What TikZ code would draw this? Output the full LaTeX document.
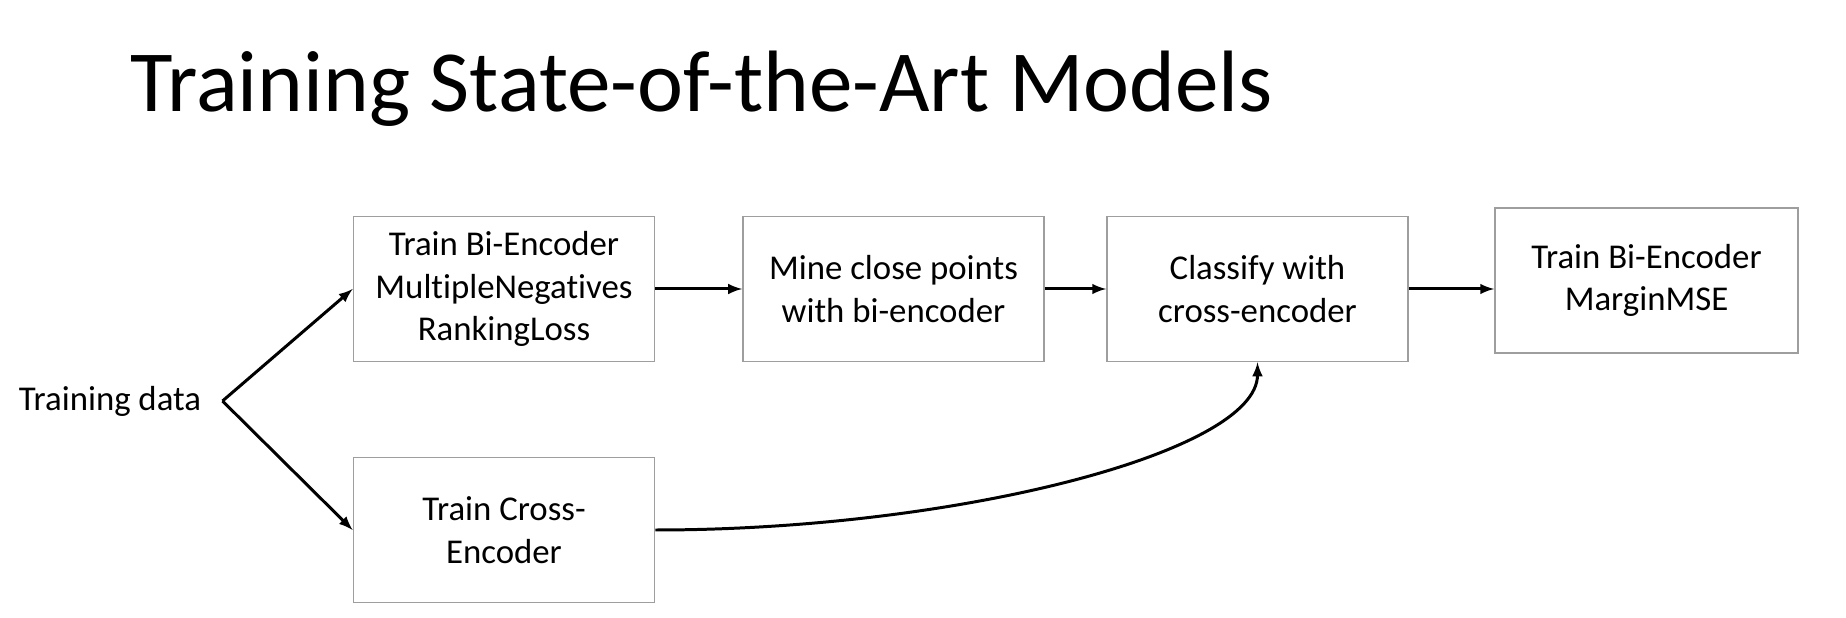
\documentclass[tikz,border=0pt]{standalone}
\usepackage{fontspec}
\setmainfont[Ligatures = NoCommon]{Carlito}
\usetikzlibrary{arrows}

\tikzstyle{block} = [draw = black!38, text centered, minimum height = 2.9cm, minimum width = 6.02cm, line width = 1pt, inner sep = 0pt, font = \fontsize{19.8}{24.1}\selectfont]

\begin{document}
\begin{tikzpicture}
		\useasboundingbox (0, 0) rectangle (36.92, 12.36);
		\node [anchor = base west, inner sep = 0pt, font = \fontsize{49.6}{56}\selectfont] at (2.6, 10.12) (0) {Training State-of-the-Art Models};
		\node [align = center, inner sep = 0pt, font = \fontsize{19.8}{24.1}\selectfont] at (2.2, 4.34) (1) {Training data};
		\coordinate (s) at (4.45, 4.34);
		\node [block, align = center] at (10.08, 6.58) (2) {Train Bi-Encoder\\MultipleNegatives\\RankingLoss};
		\node [block, align = center] at (10.08, 1.76) (3) {Train Cross-\\Encoder};
		\node [block, align = center] at (17.87, 6.58) (4) {Mine close points\\with bi-encoder};
		\node [block, align = center] at (25.15, 6.58) (5) {Classify with\\cross-encoder};
		\node [block, align = center, minimum width = 6.06cm] at (32.93, 6.75) (6) {Train Bi-Encoder\\MarginMSE};

  		\draw [-latex, line width = 1.7pt] (s) -- (2.west);
  		\draw [-latex, line width = 1.7pt] (s) -- (3.west);
  		\draw [-latex, line width = 1.7pt] (2) -- (4);
  		\draw [-latex, line width = 1.7pt] (4) -- (5);
  		\draw [-latex, line width = 1.7pt] (5.east) -- (5.east -| 6.west);
  		\draw [-latex, line width = 1.7pt] (3.east) .. controls +(6.0, 0) and +(0, -1.8) .. (5.south);
	\end{tikzpicture}
\end{document}
